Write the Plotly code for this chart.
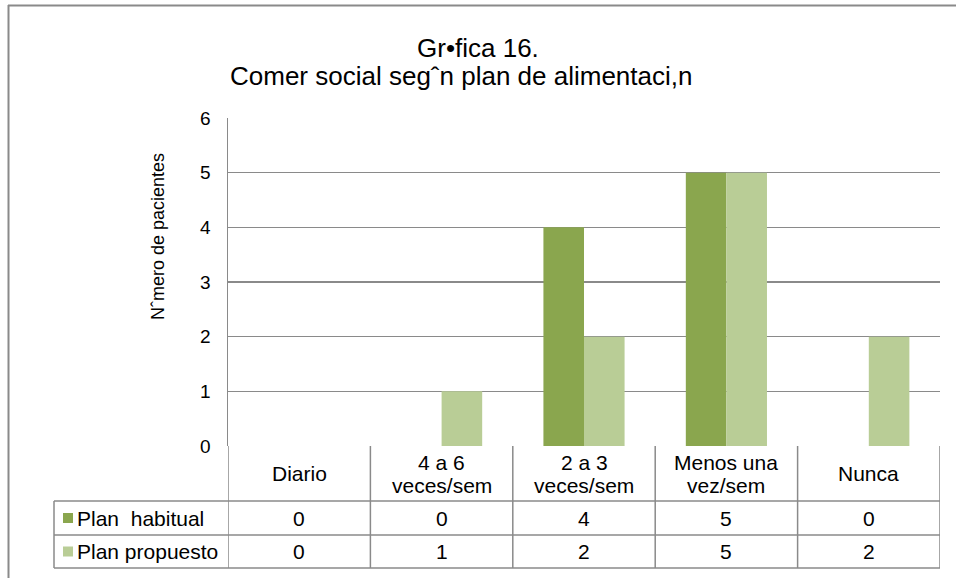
import plotly.graph_objects as go

categories = ["Diario", "4 a 6<br>veces/sem", "2 a 3<br>veces/sem", "Menos una<br>vez/sem", "Nunca"]
series_names = ["Plan  habitual", "Plan propuesto"]
plan_habitual = [0, 0, 4, 5, 0]
plan_propuesto = [0, 1, 2, 5, 2]
y_ticks = [0, 1, 2, 3, 4, 5, 6]
title_line1 = "Gr•fica 16."
title_line2 = "Comer social segˆn plan de alimentaci,n"
y_title = "Nˆmero de pacientes"

colors = ["#8AA64E", "#B9CD96"]
W, H = 956, 578
FONT = "Liberation Sans, Arial, sans-serif"
GRID = "#8a8a8a"

def px(x):
    return x / W

def py(y):
    return 1 - y / H

plot_left, plot_right, plot_top, plot_bottom = 228, 940, 118, 446
row_lines = [446, 501, 535, 568]
legend_left = 54

fig = go.Figure()
series = [plan_habitual, plan_propuesto]
idx = list(range(len(categories)))
for name, vals, col in zip(series_names, series, colors):
    fig.add_trace(go.Bar(x=idx, y=vals, name=name, marker=dict(color=col, line=dict(width=0)),
                         showlegend=False, hoverinfo="skip"))

fig.update_layout(
    width=W, height=H,
    margin=dict(l=0, r=0, t=0, b=0, autoexpand=False),
    paper_bgcolor="white", plot_bgcolor="white",
    barmode="group", bargap=0.43, bargroupgap=0,
    font=dict(family=FONT, color="black"),
    xaxis=dict(domain=[px(plot_left), px(plot_right)], range=[-0.5, len(categories) - 0.5],
               showticklabels=False, showgrid=False, zeroline=False, showline=False, ticks="",
               automargin=False, fixedrange=True),
    yaxis=dict(domain=[py(plot_bottom), py(plot_top)], range=[0, 6], tickvals=y_ticks,
               showgrid=True, gridcolor=GRID, gridwidth=1.5, zeroline=False,
               showline=True, linecolor=GRID, linewidth=1.5,
               ticks="", ticklabelstandoff=12, automargin=False, fixedrange=True,
               tickfont=dict(size=19, family=FONT, color="black")),
)

shapes = []
line = dict(color=GRID, width=1.5)
# outer chart border (top & left visible)
shapes.append(dict(type="line", xref="paper", yref="paper", x0=px(8), x1=1, y0=py(5.5), y1=py(5.5),
                   line=dict(color="#8a8a8a", width=2)))
shapes.append(dict(type="line", xref="paper", yref="paper", x0=px(8.5), x1=px(8.5), y0=py(5), y1=0,
                   line=dict(color="#8a8a8a", width=2)))
# table vertical lines at category boundaries
for i in range(len(categories) + 1):
    shapes.append(dict(type="line", xref="x", yref="paper", x0=i - 0.5, x1=i - 0.5,
                       y0=py(row_lines[0]), y1=py(row_lines[-1]), line=line))
# legend column left line
shapes.append(dict(type="line", xref="paper", yref="paper", x0=px(legend_left), x1=px(legend_left),
                   y0=py(row_lines[1]), y1=py(row_lines[-1]), line=line))
# horizontal table lines
for y in row_lines[1:]:
    shapes.append(dict(type="line", xref="paper", yref="paper", x0=px(legend_left), x1=px(plot_right),
                       y0=py(y), y1=py(y), line=line))
# legend keys
for r, col in enumerate(colors):
    yc = (row_lines[r + 1] + row_lines[r + 2]) / 2
    shapes.append(dict(type="rect", xref="paper", yref="paper", x0=px(63), x1=px(73),
                       y0=py(yc + 5), y1=py(yc - 5), fillcolor=col, line=dict(width=0)))

annotations = []
TF = dict(family=FONT, size=21, color="black")
hy = (row_lines[0] + row_lines[1]) / 2
LINE_H = 23
for i, c in enumerate(categories):
    parts = c.split("<br>")
    n = len(parts)
    for k, part in enumerate(parts):
        yk = hy + (k - (n - 1) / 2) * LINE_H
        annotations.append(dict(x=i, y=py(yk), xref="x", yref="paper", text=part, showarrow=False,
                                font=TF, xanchor="center", yanchor="middle"))
for r, (name, vals) in enumerate(zip(series_names, series)):
    yc = (row_lines[r + 1] + row_lines[r + 2]) / 2
    annotations.append(dict(x=px(75), y=py(yc), xref="paper", yref="paper", text=name.replace(" ", "&nbsp;"),
                            showarrow=False, font=TF, xanchor="left", yanchor="middle"))
    for i, v in enumerate(vals):
        annotations.append(dict(x=i, y=py(yc), xref="x", yref="paper", text=str(v), showarrow=False,
                                font=TF, xanchor="center", yanchor="middle"))
annotations.append(dict(x=px(478), y=py(48), xref="paper", yref="paper", text=title_line1, showarrow=False,
                        font=dict(family=FONT, size=26, color="black"), xanchor="center", yanchor="middle"))
annotations.append(dict(x=px(461), y=py(76), xref="paper", yref="paper", text=title_line2, showarrow=False,
                        font=dict(family=FONT, size=26, color="black"), xanchor="center", yanchor="middle"))
annotations.append(dict(x=px(158), y=py(237), xref="paper", yref="paper", text=y_title, showarrow=False,
                        textangle=-90, font=dict(family=FONT, size=18, color="black"),
                        xanchor="center", yanchor="middle"))

fig.update_layout(shapes=shapes, annotations=annotations)
fig.write_html("out.html", config={"displayModeBar": False, "staticPlot": True},
               post_script="document.body.style.margin='0';document.body.style.overflow='hidden';")
